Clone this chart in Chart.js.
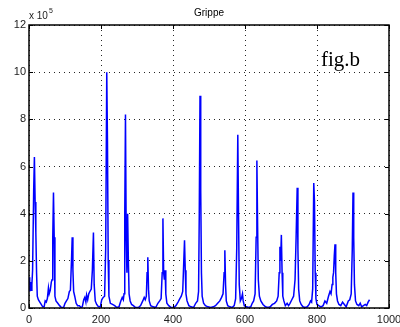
<!DOCTYPE html>
<html>
<head>
<meta charset="utf-8">
<script src="https://cdn.jsdelivr.net/npm/chart.js@4"></script>
<style>
  body { margin: 0; background: #fff; }
  canvas { display: block; }
</style>
</head>
<body>
<canvas id="grippeChart" width="400" height="327"></canvas>
<script>
// === Données (semaines, cas x 10^5) ===
const weeks = [
  0, 2, 4, 6, 8, 10, 13, 15, 17, 19, 21, 23, 26, 30, 34, 38, 42, 45, 48, 51, 54, 56, 59, 62, 64, 66, 68, 70, 72, 75,
  80, 85, 90, 96, 100, 104, 108, 112, 115, 118, 120, 122, 124, 127, 131, 135, 140, 144, 148, 152, 155, 158, 160, 163,
  166, 169, 173, 176, 179, 181, 184, 188, 193, 198, 202, 206, 210, 213, 216, 218, 220, 222, 226, 232, 238, 244, 250,
  255, 259, 262, 264, 266, 268, 270, 272, 274, 276, 278, 281, 285, 290, 296, 304, 310, 316, 320, 323, 326, 328, 330,
  332, 334, 338, 345, 352, 358, 363, 367, 370, 372, 374, 376, 378, 380, 383, 388, 395, 402, 408, 414, 419, 423, 427,
  430, 432, 434, 436, 439, 444, 450, 457, 463, 468, 471, 473, 475, 477, 479, 481, 485, 490, 497, 505, 512, 518, 524,
  530, 535, 539, 542, 544, 546, 548, 552, 558, 564, 570, 574, 577, 580, 582, 584, 587, 590, 593, 595, 598, 604, 610,
  616, 620, 624, 628, 631, 633, 635, 637, 640, 644, 650, 657, 664, 670, 676, 682, 688, 692, 695, 697, 699, 701, 703,
  705, 708, 712, 717, 721, 725, 730, 735, 739, 742, 745, 747, 749, 752, 756, 761, 767, 773, 778, 782, 785, 788, 791,
  793, 795, 797, 800, 805, 811, 817, 822, 827, 832, 836, 839, 842, 844, 846, 848, 850, 852, 854, 857, 861, 866, 871,
  876, 881, 887, 891, 895, 898, 900, 902, 904, 907, 911, 916, 920, 924, 929, 934, 938, 942, 946
];
const cases = [
  1.3, 0.7, 1.1, 0.75, 1.0, 1.6, 5.0, 6.4, 4.5, 3.2, 1.5, 0.5, 0.35, 0.25, 0.15, 0.05, 0.05, 0.3, 0.25, 0.4, 0.85, 0.6, 0.75, 1.1, 1.2, 3.0, 4.9, 3.0, 0.5, 0.3,
  0.2, 0.1, 0.02, 0.02, 0.2, 0.3, 0.4, 0.7, 0.75, 2.0, 3.0, 1.6, 0.7, 0.5, 0.2, 0.1, 0.1, 0.02, 0.05, 0.35, 0.45, 0.25, 0.55, 0.35,
  0.6, 0.7, 0.8, 1.6, 3.2, 1.0, 0.3, 0.15, 0.05, 0.05, 0.35, 0.45, 0.5, 2.5, 10.0, 7.0, 2.0, 0.5, 0.2, 0.15, 0.1, 0.02, 0.05,
  0.3, 0.45, 0.35, 0.6, 4.0, 8.2, 3.0, 1.5, 4.0, 2.0, 0.6, 0.3, 0.15, 0.1, 0.02, 0.02, 0.1, 0.3, 0.45, 0.35, 0.5, 1.5, 2.15,
  0.8, 0.3, 0.1, 0.05, 0.02, 0.2, 0.3, 0.4, 1.5, 3.8, 1.5, 1.2, 1.6, 0.6, 0.2, 0.1, 0.02, 0.02, 0.1, 0.25, 0.4, 0.5, 0.7,
  2.0, 2.87, 1.6, 0.6, 0.3, 0.1, 0.05, 0.02, 0.2, 0.3, 0.7, 4.0, 9.0, 5.0, 1.5, 0.5, 0.2, 0.1, 0.05, 0.02, 0.05, 0.1, 0.2,
  0.3, 0.45, 0.6, 1.5, 2.45, 1.0, 0.3, 0.1, 0.05, 0.02, 0.1, 0.4, 2.5, 7.35, 4.0, 1.0, 0.3, 0.4, 0.6, 0.3, 0.1, 0.05, 0.02,
  0.05, 0.2, 0.3, 0.6, 3.0, 6.25, 3.5, 1.2, 0.5, 0.3, 0.15, 0.05, 0.02, 0.05, 0.15, 0.2, 0.3, 0.5, 1.5, 2.6, 2.0, 3.1, 1.5,
  0.5, 0.3, 0.1, 0.2, 0.1, 0.2, 0.35, 0.5, 1.2, 3.0, 5.1, 2.5, 0.8, 0.3, 0.15, 0.05, 0.02, 0.05, 0.15, 0.3, 0.25, 0.8, 5.3,
  4.5, 1.5, 0.4, 0.15, 0.1, 0.05, 0.1, 0.3, 0.2, 0.5, 0.7, 0.6, 1.0, 1.3, 1.5, 2.2, 2.7, 1.5, 0.6, 0.3, 0.15, 0.1, 0.25,
  0.15, 0.05, 0.3, 0.35, 0.6, 2.5, 4.9, 3.0, 1.0, 0.3, 0.15, 0.1, 0.2, 0.05, 0.1, 0.15, 0.1, 0.25, 0.35
];
const xTicks = [0, 200, 400, 600, 800, 1000];
const yTicks = [0, 2, 4, 6, 8, 10, 12];

const tickFont = { family: "'Liberation Sans', Arial, sans-serif", size: 11 };

// cadre façon matlab + textes
const matlabBox = {
  id: "matlabBox",
  afterDraw(chart) {
    const { ctx, chartArea: a, scales } = chart;
    ctx.save();
    ctx.strokeStyle = "#000";
    ctx.lineWidth = 1;
    // petites graduations vers l'intérieur
    ctx.beginPath();
    xTicks.forEach(v => {
      const x = Math.round(scales.x.getPixelForValue(v)) + 0.5;
      ctx.moveTo(x, a.bottom); ctx.lineTo(x, a.bottom - 4);
      ctx.moveTo(x, a.top); ctx.lineTo(x, a.top + 4);
    });
    yTicks.forEach(v => {
      const y = Math.round(scales.y.getPixelForValue(v)) + 0.5;
      ctx.moveTo(a.left, y); ctx.lineTo(a.left + 4, y);
      ctx.moveTo(a.right, y); ctx.lineTo(a.right - 4, y);
    });
    ctx.stroke();
    ctx.lineWidth = 1.5;
    ctx.strokeRect(a.left, a.top, a.right - a.left, a.bottom - a.top);

    ctx.fillStyle = "#000";
    ctx.textBaseline = "alphabetic";
    ctx.font = "10px 'Liberation Sans', Arial, sans-serif";
    ctx.textAlign = "center";
    ctx.fillText("Grippe", (a.left + a.right) / 2, 16);

    ctx.fillStyle = "#222";
    ctx.textAlign = "left";
    ctx.font = "10px 'Liberation Sans', Arial, sans-serif";
    ctx.fillText("x 10", a.left, 19);
    const w = ctx.measureText("x 10").width;
    ctx.font = "7px 'Liberation Sans', Arial, sans-serif";
    ctx.fillText("5", a.left + w + 1, 13);

    ctx.fillStyle = "#000";
    ctx.font = "21px 'Liberation Serif', 'Times New Roman', serif";
    ctx.fillText("fig.b", 321, 66);
    ctx.restore();
  }
};

new Chart(document.getElementById("grippeChart"), {
  type: "line",
  data: {
    datasets: [{
      label: "Grippe",
      data: weeks.map((w, i) => ({ x: w, y: cases[i] })),
      borderColor: "#0000ff",
      borderWidth: 1.5,
      pointRadius: 0,
      fill: false,
      tension: 0
    }]
  },
  options: {
    responsive: false,
    animation: false,
    layout: { padding: { top: 25, right: 11, left: 0, bottom: 0 } },
    plugins: {
      legend: { display: false },
      title: { display: false },
      tooltip: { enabled: false }
    },
    scales: {
      x: {
        type: "linear",
        min: 0,
        max: 1000,
        afterBuildTicks: s => { s.ticks = xTicks.map(v => ({ value: v })); },
        afterFit: s => { s.height = 19; s.paddingLeft = 0; s.paddingRight = 0; },
        ticks: { font: tickFont, color: "#222", padding: 5, maxRotation: 0, callback: v => String(v) },
        grid: { color: "rgba(0,0,0,0.85)", lineWidth: 1, drawTicks: false },
        border: { display: false, dash: [1, 4] }
      },
      y: {
        min: 0,
        max: 12,
        afterBuildTicks: s => { s.ticks = yTicks.map(v => ({ value: v })); },
        afterFit: s => { s.width = 29; },
        ticks: { font: tickFont, color: "#222", padding: 3, callback: v => String(v) },
        grid: { color: "rgba(0,0,0,0.85)", lineWidth: 1, drawTicks: false },
        border: { display: false, dash: [1, 4] }
      }
    }
  },
  plugins: [matlabBox]
});
</script>
</body>
</html>
